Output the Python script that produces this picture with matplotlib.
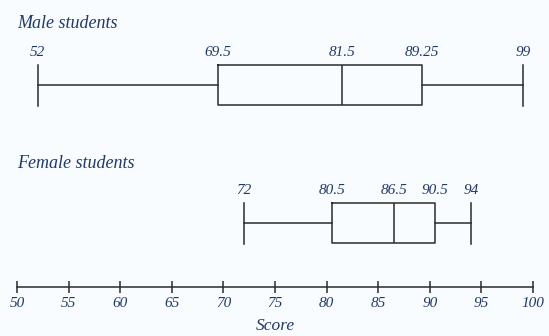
import matplotlib
matplotlib.use("Agg")
from matplotlib import pyplot as plt

# five-number summaries
groups = ["Male students", "Female students"]
male = [52, 69.5, 81.5, 89.25, 99]
female = [72, 80.5, 86.5, 90.5, 94]
ticks = list(range(50, 101, 5))

ink = "#1f3870"
line_col = "#2a2a2a"
bg = "#f8fcff"

plt.rcParams["font.family"] = ["Liberation Serif", "DejaVu Serif"]

W, H = 549, 336
fig = plt.figure(figsize=(W / 100, H / 100), dpi=100, facecolor=bg)
# y in pixel units, axis line at pixel 287
ax = fig.add_axes([17 / W, (H - 287) / H, 516 / W, 287 / H])
ax.set_facecolor(bg)

rows = [(groups[0], male, 85, 24, 59), (groups[1], female, 223, 163, 197)]
stats = []
for name, s, ypos, ytitle, ylab in rows:
    stats.append(dict(whislo=s[0], q1=s[1], med=s[2], q3=s[3], whishi=s[4], fliers=[]))
    ax.text(50, ytitle, name, ha="left", va="center", fontsize=13,
            style="italic", color=ink, clip_on=False)
    for v in s:
        ax.text(v, ylab, f"{v:g}", ha="center", va="bottom", fontsize=11,
                style="italic", color=ink)

lw = 1.1
ax.bxp(stats, positions=[r[2] for r in rows], widths=40, capwidths=41,
       orientation="horizontal", showfliers=False,
       boxprops=dict(color=line_col, linewidth=lw),
       whiskerprops=dict(color=line_col, linewidth=lw),
       capprops=dict(color=line_col, linewidth=lw),
       medianprops=dict(color=line_col, linewidth=lw))
ax.set_ylim(287, 0)
ax.set_xlim(50, 100)

for sp in ["top", "left", "right"]:
    ax.spines[sp].set_visible(False)
ax.spines["bottom"].set_color(line_col)
ax.spines["bottom"].set_linewidth(lw)
ax.set_yticks([])
ax.set_xticks(ticks)
ax.set_xticklabels([str(t) for t in ticks], fontsize=11, style="italic", color=ink)
ax.tick_params(axis="x", direction="inout", length=9, width=lw, color=line_col, pad=2.5)
ax.set_xlabel("Score", fontsize=12.5, style="italic", color=ink, labelpad=6)

fig.savefig("out.png", dpi=100, facecolor=bg)
